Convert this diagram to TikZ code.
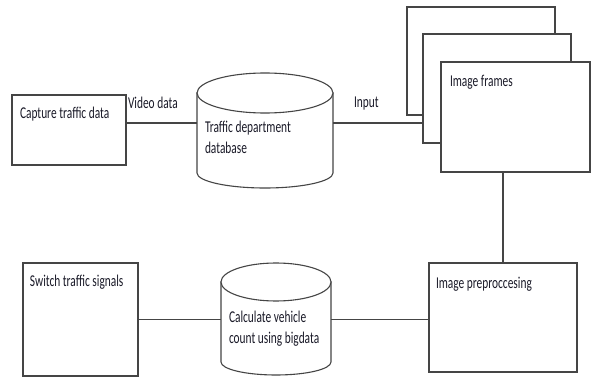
\documentclass[tikz,border=0pt]{standalone}
\usepackage{fontspec}
\setmainfont{Carlito}
\definecolor{linec}{HTML}{454545}
\definecolor{textc}{HTML}{1A1A28}
\begin{document}
\begin{tikzpicture}[x=1pt,y=-1pt,
  every node/.style={inner sep=0pt,outer sep=0pt},
  boxnode/.style={draw=linec,line width=1.2pt,fill=white,rectangle,anchor=north west},
  ghost/.style={rectangle,anchor=north west},
  lbl/.style={text=textc,font=\fontsize{16.5}{21}\selectfont,xscale=0.69,anchor=base west,align=left},
  conn/.style={draw=linec,line width=1.2pt},
  cylline/.style={draw=linec,line width=1.1pt,fill=white}]
\useasboundingbox[fill=white] (0,0) rectangle (592,377);

% boxes
\node[boxnode,minimum width=114pt,minimum height=70pt] (cap) at (12,95) {};
\node[boxnode,minimum width=148pt,minimum height=108pt] (f1) at (407,7) {};
\node[boxnode,minimum width=148pt,minimum height=109pt] (f2) at (423,34) {};
\node[boxnode,minimum width=149pt,minimum height=110pt] (f3) at (441,62) {};
\node[boxnode,minimum width=148pt,minimum height=109pt] (pre) at (429,263) {};
\node[boxnode,minimum width=115pt,minimum height=113pt] (sw) at (23,263) {};

% cylinder 1 (Traffic department database)
\node[ghost,minimum width=136pt,minimum height=115pt] (db) at (197,73) {};
\path[cylline] (197,93) -- (197,173) arc[start angle=180,end angle=360,x radius=68pt,y radius=15pt] -- (333,93) -- cycle;
\draw[cylline] (265,93) ellipse[x radius=68pt,y radius=20pt];

% cylinder 2 (Calculate vehicle count)
\node[ghost,minimum width=110pt,minimum height=113pt] (calc) at (221,263) {};
\path[cylline] (221,282) -- (221,362) arc[start angle=180,end angle=360,x radius=55pt,y radius=13pt] -- (331,282) -- cycle;
\draw[cylline] (276,282) ellipse[x radius=55pt,y radius=19pt];

% connectors
\draw[conn] ([yshift=7pt]cap.east) -- ([yshift=7pt]cap.east -| db.west);
\draw[conn] ([yshift=7.5pt]db.east) -- ([yshift=7.5pt]db.east -| f2.west);
\draw[conn] (pre.north) -- (pre.north |- f3.south);
\draw[conn] (sw.east) -- (sw.east -| calc.west);
\draw[conn] (calc.east) -- (calc.east -| pre.west);

% labels
\node[lbl] (tcap) at (20,119) {Capture traffic data};
\node[lbl] (tvid) at (128,109) {Video data};
\node[lbl] (tdb) at (205,154) {Traffic department\\database};
\node[lbl] (tin) at (354,108) {Input};
\node[lbl] (tfr) at (450,87) {Image frames};
\node[lbl] (tsw) at (30,286) {Switch traffic signals};
\node[lbl] (tcalc) at (229,343) {Calculate vehicle\\count using bigdata};
\node[lbl] (tpre) at (436,288) {Image preproccesing};
\end{tikzpicture}
\end{document}
